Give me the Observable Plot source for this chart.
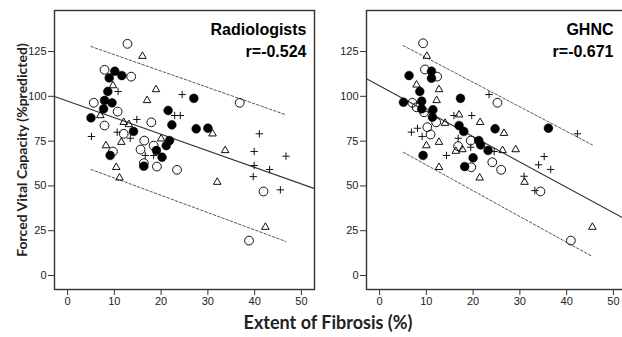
<!DOCTYPE html>
<html>
<head>
<meta charset="utf-8">
<script src="https://cdn.jsdelivr.net/npm/d3@7"></script>
<script src="https://cdn.jsdelivr.net/npm/@observablehq/plot@0.6"></script>
<style>
  html, body { margin: 0; padding: 0; background: #fff; overflow: hidden; }
  #wrap { position: relative; width: 622px; height: 337px; overflow: hidden; }
  #p1 { position: absolute; left: 0; top: 0; width: 320px; }
  #p2 { position: absolute; left: 312px; top: 0; width: 320px; }
  #p1 svg, #p2 svg { max-width: none; }
  #xtitle { position: absolute; left: 0; width: 656px; top: 311px; text-align: center;
    font-family: Lato, "Open Sans", sans-serif; font-weight: bold; font-size: 18px; color: #222; }
</style>
</head>
<body>
<div id="wrap">
  <div id="p1"></div>
  <div id="p2"></div>
  <div id="xtitle">Extent of Fibrosis (%)</div>
</div>
<script>
// ---- data ----
const xTicks = [0, 10, 20, 30, 40, 50];
const yTicks = [0, 25, 50, 75, 100, 125];
const xDomain = [-2.8, 52.8];
const yDomain = [-7.8, 147.9];

const panelTitles = ["Radiologists", "GHNC"];
const panelR = ["r=-0.524", "r=-0.671"];
const yTitle = "Forced Vital Capacity (%predicted)";

// Radiologists panel
const radFilled = [[10.1,114.0],[8.9,110.3],[11.6,111.6],[8.6,102.7],[7.9,97.7],[9.5,96.4],[7.7,93.0],[5.0,88.0],[27.0,98.9],[21.5,92.1],[22.3,84.1],[27.5,81.9],[30.0,82.2],[14.1,80.4],[21.8,75.3],[21.1,72.5],[19.0,69.8],[9.1,67.0],[20.2,66.0],[16.3,61.0]];
const radOpen = [[12.8,129.3],[7.9,114.8],[13.6,111.0],[5.6,96.4],[10.7,91.5],[7.9,83.7],[17.9,85.5],[36.8,96.4],[12.0,79.1],[16.4,75.3],[9.7,69.2],[18.4,72.5],[15.6,70.3],[16.3,62.7],[19.1,60.8],[23.4,59.0],[41.9,46.9],[38.8,19.5]];
const radTri = [[16.0,122.4],[9.7,106.0],[18.9,103.8],[17.0,97.7],[7.0,89.3],[12.0,85.5],[13.1,84.3],[31.0,79.1],[20.0,76.3],[11.5,74.4],[8.2,72.5],[33.7,69.8],[10.4,60.4],[11.1,54.5],[32.0,52.1],[42.3,27.0]];
const radPlus = [[10.8,102.7],[24.5,101.0],[22.9,89.3],[24.1,89.3],[14.8,87.1],[10.6,80.0],[13.4,76.6],[5.1,77.6],[41.0,79.1],[39.9,69.2],[46.7,66.6],[16.6,67.0],[18.4,67.0],[39.9,61.4],[43.2,59.2],[39.7,55.2],[45.5,47.8]];
const radFit = [[-2.8,99.9],[52.8,48.5]];
const radUpper = [[5.0,127.8],[46.7,89.7]];
const radLower = [[5.0,59.2],[46.7,19.0]];

// GHNC panel
const ghFilled = [[6.3,111.6],[11.1,114.0],[11.1,110.1],[8.6,102.7],[17.3,98.9],[9.0,97.3],[5.1,96.7],[9.0,93.0],[11.4,92.5],[11.3,88.4],[17.0,83.7],[18.0,80.4],[24.7,81.9],[36.1,82.2],[21.2,75.3],[21.6,72.9],[23.2,69.8],[20.0,65.7],[9.3,67.0],[18.2,60.8]];
const ghOpen = [[9.3,129.6],[9.7,115.0],[12.3,111.0],[7.0,96.4],[7.9,93.9],[9.5,91.1],[25.2,96.4],[12.1,85.5],[10.2,82.8],[10.9,78.7],[19.5,75.3],[16.8,72.2],[24.1,63.2],[19.6,60.4],[26.0,59.0],[34.4,46.9],[40.9,19.5]];
const ghTri = [[10.1,122.4],[7.9,106.4],[12.7,103.8],[12.2,97.7],[14.0,85.0],[21.5,85.5],[17.0,89.7],[26.6,79.4],[12.7,74.4],[10.0,72.5],[17.7,70.3],[16.3,69.4],[26.3,69.8],[29.1,70.3],[12.7,60.4],[21.4,54.5],[31.0,52.1],[45.5,27.0]];
const ghPlus = [[23.4,101.0],[15.9,89.3],[19.7,89.3],[6.8,80.0],[8.1,82.2],[9.1,77.6],[16.8,76.6],[42.3,79.1],[14.3,67.0],[19.5,71.6],[24.5,69.2],[35.2,66.4],[34.0,61.8],[36.6,59.2],[30.9,55.4],[33.2,47.4]];
const ghFit = [[-2.8,109.8],[52.8,31.1]];
const ghUpper = [[5.07,128.3],[45.5,72.9]];
const ghLower = [[5.07,68.8],[45.5,10.6]];

function panel(opts) {
  const {filled, open, tri, plus, fit, upper, lower, title, r, titleDx, withYTitle} = opts;
  const marks = [
    Plot.frame({stroke: "#333", strokeWidth: 1.4}),
    Plot.axisX({ticks: xTicks, tickSize: 6, tickPadding: 2, label: null, stroke: "#333", fill: "#222"}),
    Plot.axisY({ticks: yTicks, tickSize: 6, tickPadding: 2, label: null, stroke: "#333", fill: "#222"}),
    Plot.line(upper, {x: d => d[0], y: d => d[1], stroke: "#555", strokeWidth: 1, strokeDasharray: "2.5,2"}),
    Plot.line(lower, {x: d => d[0], y: d => d[1], stroke: "#555", strokeWidth: 1, strokeDasharray: "2.5,2"}),
    Plot.line(fit, {x: d => d[0], y: d => d[1], stroke: "#333", strokeWidth: 1.1}),
    Plot.dot(open, {x: d => d[0], y: d => d[1], r: 4.4, symbol: "circle", stroke: "#111", strokeWidth: 1, fill: "none"}),
    Plot.dot(tri, {x: d => d[0], y: d => d[1], r: 2.8, symbol: "triangle", stroke: "#111", strokeWidth: 1, fill: "none"}),
    Plot.dot(plus, {x: d => d[0], y: d => d[1], r: 2.5, symbol: "plus", stroke: "#111", strokeWidth: 1, fill: "none"}),
    Plot.dot(filled, {x: d => d[0], y: d => d[1], r: 4.4, symbol: "circle", fill: "#000", stroke: "#000", strokeWidth: 0.5}),
    Plot.text([title + "\n" + r], {frameAnchor: "top-right", textAnchor: "end", lineAnchor: "top", dx: titleDx, dy: 10, lineHeight: 1.32,
      fontFamily: "'Liberation Sans', Arial, sans-serif", fontWeight: "bold", fontSize: 16, fill: "#000"})
  ];
  if (withYTitle) {
    marks.push(Plot.text([yTitle], {frameAnchor: "left", rotate: -90, dx: -32, textAnchor: "middle",
      fontFamily: "Lato, 'Open Sans', sans-serif", fontWeight: "bold", fontSize: 14, fill: "#222"}));
  }
  return Plot.plot({
    width: 320,
    height: 310,
    marginLeft: 54,
    marginRight: 6,
    marginTop: 10,
    marginBottom: 21,
    style: {fontFamily: "'Liberation Sans', Arial, sans-serif", fontSize: "11px", background: "transparent", overflow: "visible", maxWidth: "none"},
    x: {domain: xDomain},
    y: {domain: yDomain},
    marks
  });
}

document.getElementById("p1").appendChild(panel({filled: radFilled, open: radOpen, tri: radTri, plus: radPlus,
  fit: radFit, upper: radUpper, lower: radLower, title: panelTitles[0], r: panelR[0], titleDx: -8, withYTitle: true}));
document.getElementById("p2").appendChild(panel({filled: ghFilled, open: ghOpen, tri: ghTri, plus: ghPlus,
  fit: ghFit, upper: ghUpper, lower: ghLower, title: panelTitles[1], r: panelR[1], titleDx: -13, withYTitle: false}));
</script>
</body>
</html>
